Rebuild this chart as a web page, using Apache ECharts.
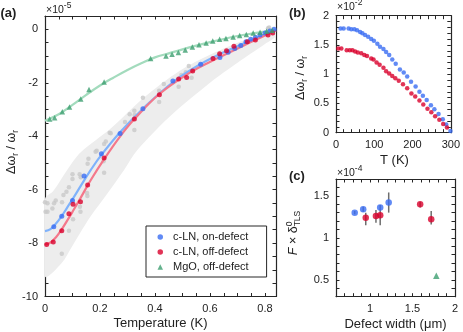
<!DOCTYPE html>
<html>
<head>
<meta charset="utf-8">
<script src="https://cdn.jsdelivr.net/npm/echarts@6/dist/echarts.min.js"></script>
<style>
  html, body { margin: 0; padding: 0; background: #fff; }
  #chart { width: 463px; height: 332px; }
</style>
</head>
<body>
<div id="chart"></div>
<script>
// ---- panel (a): frequency shift vs temperature (x 1e-5) ----
const aOnT = [0.032, 0.061, 0.100, 0.142, 0.205, 0.273, 0.356, 0.465, 0.566, 0.636, 0.666, 0.690, 0.712, 0.731, 0.748, 0.765, 0.782, 0.800, 0.818, 0.833];
const aOnY = [-7.39, -7.0, -6.41, -5.49, -4.66, -3.9, -2.97, -1.93, -1.31, -1.05, -0.86, -0.72, -0.6, -0.46, -0.37, -0.3, -0.21, -0.14, -0.06, 0.0];
const aOffT = [0.006, 0.03, 0.061, 0.087, 0.102, 0.129, 0.155, 0.215, 0.325, 0.416, 0.486, 0.515, 0.537, 0.611, 0.635, 0.66, 0.687, 0.736, 0.765, 0.811, 0.828];
const aOffY = [-8.05, -7.96, -7.54, -6.9, -6.55, -6.45, -5.83, -4.82, -3.36, -2.45, -1.86, -1.8, -1.56, -1.09, -0.91, -0.8, -0.63, -0.46, -0.4, -0.21, -0.14];
const aMgoT = [0.017, 0.035, 0.063, 0.089, 0.13, 0.16, 0.215, 0.384, 0.44, 0.462, 0.485, 0.51, 0.536, 0.56, 0.586, 0.61, 0.635, 0.658, 0.684, 0.708, 0.732, 0.757, 0.782, 0.806, 0.826];
const aMgoY = [-3.36, -3.31, -3.08, -2.91, -2.61, -2.25, -1.97, -1.09, -1.0, -0.93, -0.87, -0.77, -0.66, -0.58, -0.51, -0.44, -0.37, -0.34, -0.29, -0.23, -0.19, -0.14, -0.11, -0.07, -0.03];
const aGreyT = [0.0, 0.002, 0.009, 0.009, 0.027, 0.033, 0.039, 0.062, 0.067, 0.078, 0.087, 0.1, 0.1, 0.126, 0.13, 0.127, 0.129, 0.102, 0.087, 0.061, 0.153, 0.154, 0.158, 0.155, 0.215, 0.213, 0.184, 0.188, 0.215, 0.221, 0.235, 0.239, 0.291, 0.308, 0.325, 0.326, 0.325, 0.356, 0.415, 0.415, 0.432, 0.486, 0.496, 0.512, 0.523, 0.533, 0.811, 0.815];
const aGreyY = [-6.47, -6.83, -6.51, -6.83, -6.71, -6.51, -6.41, -6.47, -6.2, -6.08, -5.91, -5.42, -5.6, -5.42, -5.54, -6.64, -6.83, -7.11, -7.54, -8.4, -6.13, -6.24, -4.84, -5.03, -5.37, -4.94, -4.58, -4.54, -4.29, -4.2, -3.87, -3.89, -3.47, -3.18, -3.05, -3.21, -3.77, -2.56, -2.3, -2.72, -2.05, -2.15, -1.71, -1.61, -1.37, -1.81, 0.04, 0.07];
// fitted curves
const aFitOnT = [0, 0.02, 0.04, 0.06, 0.08, 0.1, 0.13, 0.166, 0.205, 0.273, 0.356, 0.465, 0.566, 0.65, 0.72, 0.78, 0.84];
const aFitOnY = [-7.55, -7.48, -7.27, -7.0, -6.68, -6.36, -5.86, -5.27, -4.7, -3.85, -2.97, -1.98, -1.3, -0.86, -0.54, -0.28, -0.03];
const aFitOffT = [0, 0.02, 0.04, 0.06, 0.08, 0.1, 0.13, 0.166, 0.215, 0.27, 0.325, 0.416, 0.53, 0.603, 0.68, 0.76, 0.84];
const aFitOffY = [-8.05, -7.98, -7.78, -7.5, -7.17, -6.83, -6.3, -5.65, -4.86, -4.05, -3.36, -2.42, -1.6, -1.2, -0.82, -0.42, -0.04];
const aFitMgoT = [0, 0.05, 0.1, 0.15, 0.2, 0.25, 0.3, 0.35, 0.4, 0.45, 0.5, 0.55, 0.6, 0.65, 0.7, 0.75, 0.8, 0.84];
const aFitMgoY = [-3.42, -3.18, -2.83, -2.45, -2.1, -1.8, -1.52, -1.27, -1.05, -0.9, -0.75, -0.61, -0.48, -0.36, -0.25, -0.16, -0.08, -0.02];
// grey uncertainty band
const aBandHiT = [0, 0.03, 0.08, 0.13, 0.24, 0.36, 0.49, 0.6, 0.7, 0.78, 0.84];
const aBandHi = [-6.35, -6.05, -5.27, -4.6, -3.7, -2.55, -1.55, -0.95, -0.5, -0.2, 0.05];
const aBandLoT = [0, 0.06, 0.1, 0.166, 0.227, 0.287, 0.336, 0.45, 0.6, 0.7, 0.8, 0.84];
const aBandLo = [-9.25, -8.76, -8.1, -7.0, -6.14, -5.27, -4.52, -3.3, -2.0, -1.25, -0.55, -0.25];

// ---- panel (b): shift vs T (x 1e-2) ----
const bOnT = [12, 20, 33, 40, 48, 55, 63, 69, 76, 84, 92, 99, 108, 115, 124, 131, 139, 147, 156, 167, 177, 186, 196, 208, 218, 227, 237, 248, 257, 268, 279, 288, 299];
const bOnY = [1.78, 1.78, 1.78, 1.77, 1.77, 1.75, 1.72, 1.70, 1.67, 1.64, 1.60, 1.57, 1.52, 1.47, 1.43, 1.38, 1.33, 1.25, 1.18, 1.08, 1.03, 0.96, 0.87, 0.79, 0.70, 0.63, 0.56, 0.47, 0.40, 0.32, 0.23, 0.14, 0.03];
const bOffT = [6, 14, 28, 36, 43, 50, 57, 66, 74, 81, 92, 98, 106, 114, 124, 131, 139, 147, 155, 164, 175, 186, 197, 207, 218, 228, 239, 249, 259, 270, 280, 290];
const bOffY = [1.44, 1.44, 1.41, 1.41, 1.41, 1.39, 1.37, 1.36, 1.33, 1.31, 1.27, 1.25, 1.20, 1.16, 1.11, 1.05, 1.01, 0.97, 0.93, 0.89, 0.83, 0.76, 0.67, 0.62, 0.55, 0.48, 0.41, 0.35, 0.28, 0.22, 0.15, 0.09];

// ---- panel (c): F x delta vs defect width (x 1e-4) ----
const cOnW = [0.82, 0.92, 1.12, 1.22];
const cOnV = [1.30, 1.34, 1.36, 1.42];
const cOnLo = [1.28, 1.31, 1.33, 1.30];
const cOnHi = [1.32, 1.37, 1.39, 1.54];
const cOffW = [0.95, 1.07, 1.12, 1.59, 1.72];
const cOffV = [1.24, 1.26, 1.27, 1.40, 1.22];
const cOffLo = [1.15, 1.18, 1.15, 1.36, 1.16];
const cOffHi = [1.30, 1.33, 1.34, 1.43, 1.32];
const cMgoW = [1.78];
const cMgoV = [0.55];

const FONT = 'Liberation Sans';
const TXT = '#222';
const AX = '#262626';
const BLUE = '#3a6df2';
const RED = '#d9002c';
const GREEN = '#3d9f70';

const zip = (xs, ys) => xs.map((x, i) => [x, ys[i]]);

function mkAxis(pos, grid, min, max, step, major, labels) {
  return {
    type: 'value', gridIndex: grid, position: pos, min: min, max: max, interval: step,
    axisLine: { show: true, onZero: false, lineStyle: { color: AX, width: 1.2 } },
    axisTick: { show: true, inside: true, length: 3.5, lineStyle: { color: AX, width: 1 } },
    splitLine: { show: false },
    axisLabel: {
      show: labels, color: TXT, fontSize: 11, fontFamily: FONT, margin: 7,
      formatter: v => {
        const k = v / major;
        return Math.abs(k - Math.round(k)) < 1e-6 ? String(+(Math.round(k) * major).toFixed(3)) : '';
      }
    }
  };
}

const ctx2d = document.createElement('canvas').getContext('2d');
function measure(t, size, italic, bold) {
  ctx2d.font = (italic ? 'italic ' : '') + (bold ? 'bold ' : '') + size + 'px "' + FONT + '"';
  return ctx2d.measureText(t).width;
}
// parts: [text, size, dy, flags]
function label(x, y, parts, opt) {
  opt = opt || {};
  let w = 0;
  const kids = [];
  parts.forEach(p => {
    const f = p[3] || {};
    kids.push({
      type: 'text', x: w, y: p[2],
      style: {
        text: p[0], fontSize: p[1], fontFamily: FONT, fontStyle: f.italic ? 'italic' : 'normal',
        fontWeight: f.bold ? 'bold' : 'normal', fill: TXT, align: 'left', verticalAlign: 'middle'
      }
    });
    if (!f.stay) w += measure(p[0], p[1], f.italic, f.bold);
  });
  const shift = opt.center ? -w / 2 : 0;
  kids.forEach(k => { k.x += shift; });
  return { type: 'group', x: x, y: y, rotation: opt.rotate ? Math.PI / 2 : 0, silent: true, children: kids };
}

const dwLabel = [['Δω', 12.5, 0], ['r', 8.5, 3.5], [' / ω', 12.5, 0], ['r', 8.5, 3.5]];

const chart = echarts.init(document.getElementById('chart'), null, { renderer: 'canvas' });
chart.setOption({
  animation: false,
  backgroundColor: '#fff',
  textStyle: { fontFamily: FONT },
  grid: [
    { left: 45, top: 16, width: 231, height: 280.5 },
    { left: 336, top: 15.7, width: 116.5, height: 117 },
    { left: 336, top: 179, width: 119, height: 117.7 }
  ],
  xAxis: [
    mkAxis('bottom', 0, 0, 0.84, 0.05, 0.2, true),
    mkAxis('top', 0, 0, 0.84, 0.05, 0.2, false),
    mkAxis('bottom', 1, 0, 300, 20, 100, true),
    mkAxis('top', 1, 0, 300, 20, 100, false),
    mkAxis('bottom', 2, 0.6, 2, 0.1, 0.5, true),
    mkAxis('top', 2, 0.6, 2, 0.1, 0.5, false)
  ],
  yAxis: [
    mkAxis('left', 0, -10, 0.5, 0.5, 2, true),
    mkAxis('right', 0, -10, 0.5, 0.5, 2, false),
    mkAxis('left', 1, 0, 2, 0.1, 0.5, true),
    mkAxis('right', 1, 0, 2, 0.1, 0.5, false),
    mkAxis('left', 2, 0.3, 1.7, 0.1, 0.5, true),
    mkAxis('right', 2, 0.3, 1.7, 0.1, 0.5, false)
  ],
  legend: {
    data: ['c-LN, on-defect', 'c-LN, off-defect', 'MgO, off-defect'],
    orient: 'vertical', left: 146, top: 226,
    padding: [5, 18, 4, 11.5], itemGap: 3, itemWidth: 5.5, itemHeight: 5.5,
    backgroundColor: '#fff', borderColor: AX, borderWidth: 1, borderRadius: 0,
    textStyle: { fontSize: 11, fontFamily: FONT, color: TXT, lineHeight: 12, padding: [0, 0, 0, 5] }
  },
  series: [
    {
      type: 'custom', xAxisIndex: 0, yAxisIndex: 0, clip: true, silent: true, z: 1,
      data: [[0, 0]],
      renderItem: (params, api) => {
        const pts = [];
        aBandHiT.forEach((t, i) => pts.push(api.coord([t, aBandHi[i]])));
        for (let i = aBandLoT.length - 1; i >= 0; i--) pts.push(api.coord([aBandLoT[i], aBandLo[i]]));
        return { type: 'polygon', shape: { points: pts, smooth: 0.3 }, style: { fill: '#ededed' } };
      }
    },
    { type: 'scatter', xAxisIndex: 0, yAxisIndex: 0, z: 2, symbolSize: 4.5, itemStyle: { color: '#c8c8c8' }, data: zip(aGreyT, aGreyY) },
    { type: 'line', xAxisIndex: 0, yAxisIndex: 0, z: 3, smooth: 0.4, symbol: 'none', lineStyle: { color: '#a3dbbd', width: 2.2 }, data: zip(aFitMgoT, aFitMgoY) },
    { type: 'line', xAxisIndex: 0, yAxisIndex: 0, z: 3, smooth: 0.4, symbol: 'none', lineStyle: { color: '#7fb2fb', width: 2.2 }, data: zip(aFitOnT, aFitOnY) },
    { type: 'line', xAxisIndex: 0, yAxisIndex: 0, z: 3, smooth: 0.4, symbol: 'none', lineStyle: { color: '#f4788b', width: 2.2 }, data: zip(aFitOffT, aFitOffY) },
    { name: 'c-LN, on-defect', type: 'scatter', xAxisIndex: 0, yAxisIndex: 0, z: 4, symbolSize: 5, itemStyle: { color: BLUE }, data: zip(aOnT, aOnY) },
    { name: 'c-LN, off-defect', type: 'scatter', xAxisIndex: 0, yAxisIndex: 0, z: 4, symbolSize: 5, itemStyle: { color: RED }, data: zip(aOffT, aOffY) },
    { name: 'MgO, off-defect', type: 'scatter', xAxisIndex: 0, yAxisIndex: 0, z: 4, symbol: 'triangle', symbolSize: 5.5, itemStyle: { color: GREEN }, data: zip(aMgoT, aMgoY) },

    { type: 'scatter', xAxisIndex: 2, yAxisIndex: 2, symbolSize: 4.5, itemStyle: { color: BLUE }, data: zip(bOnT, bOnY) },
    { type: 'scatter', xAxisIndex: 2, yAxisIndex: 2, symbolSize: 4.5, itemStyle: { color: RED }, data: zip(bOffT, bOffY) },

    {
      type: 'custom', xAxisIndex: 4, yAxisIndex: 4, z: 2, silent: true,
      data: cOnW.map((w, i) => [w, cOnLo[i], cOnHi[i]]).concat(cOffW.map((w, i) => [w, cOffLo[i], cOffHi[i]])),
      renderItem: (params, api) => {
        const a = api.coord([api.value(0), api.value(1)]);
        const b = api.coord([api.value(0), api.value(2)]);
        return { type: 'line', shape: { x1: a[0], y1: a[1], x2: b[0], y2: b[1] }, style: { stroke: '#6e6e6e', lineWidth: 1.5 } };
      }
    },
    { type: 'scatter', xAxisIndex: 4, yAxisIndex: 4, z: 3, symbolSize: 6.5, itemStyle: { color: BLUE }, data: zip(cOnW, cOnV) },
    { type: 'scatter', xAxisIndex: 4, yAxisIndex: 4, z: 3, symbolSize: 6.5, itemStyle: { color: RED }, data: zip(cOffW, cOffV) },
    { type: 'scatter', xAxisIndex: 4, yAxisIndex: 4, z: 3, symbol: 'triangle', symbolSize: 6.5, itemStyle: { color: GREEN }, data: zip(cMgoW, cMgoV) }
  ],
  graphic: [
    label(0.5, 13, [['(a)', 13, 0, { bold: true }]]),
    label(289, 13, [['(b)', 13, 0, { bold: true }]]),
    label(289, 176, [['(c)', 13, 0, { bold: true }]]),
    label(46, 10.5, [['×10', 10.5, 0], ['-5', 8.5, -4.5]]),
    label(337, 7.5, [['×10', 10.5, 0], ['-2', 8.5, -4.5]]),
    label(337, 173, [['×10', 10.5, 0], ['-4', 8.5, -4.5]]),
    label(12, 152, dwLabel, { center: true, rotate: true }),
    label(301, 78, dwLabel, { center: true, rotate: true }),
    label(294, 233, [['F', 12.5, 0, { italic: true }], [' × δ', 12.5, 0], ['0', 8.5, -4.5, { stay: true }], ['TLS', 8.5, 3.5]], { center: true, rotate: true }),
    label(160.5, 323, [['Temperature (K)', 13, 0]], { center: true }),
    label(394.5, 160, [['T (K)', 13, 0]], { center: true }),
    label(395.5, 324, [['Defect width (μm)', 13, 0]], { center: true })
  ]
});
</script>
</body>
</html>
